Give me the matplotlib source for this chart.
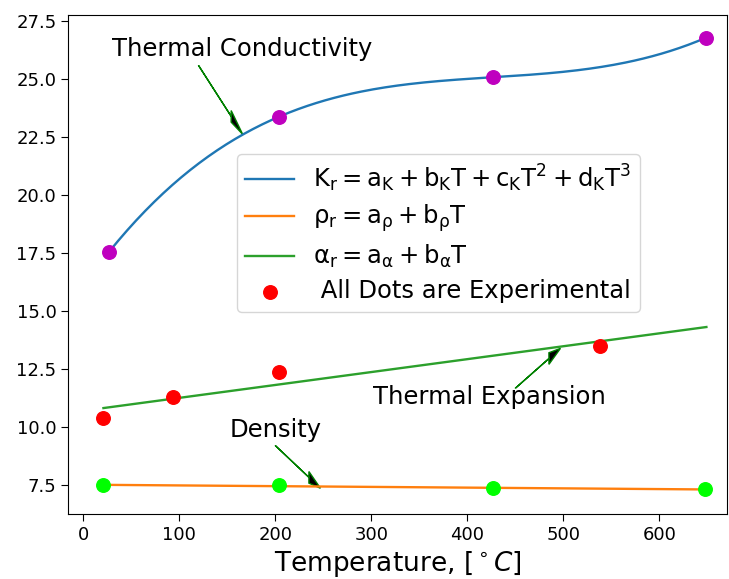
import numpy as np
import matplotlib
matplotlib.use("Agg")
import matplotlib.pyplot as plt

T_cond = [27, 204, 427, 649]
K_cond = [17.57, 23.39, 25.09, 26.80]

T_dens = [21, 204, 427, 648]
rho_dens = [7.50, 7.49, 7.37, 7.32]

T_exp = [21, 93, 204, 538]
alpha_exp = [10.40, 11.32, 12.38, 13.50]

label_K = r'$\mathregular{K_r = a_K + b_KT + c_KT^2 + d_KT^3}$'
label_rho = r'$\mathregular{\rho_r = a_\rho + b_\rho T}$'
label_alpha = r'$\mathregular{\alpha_r = a_\alpha + b_\alpha T}$'
label_dots = ' All Dots are Experimental'

# Fits (as in the legend formulas)
pK = np.polyfit(T_cond, K_cond, 3)
prho = np.polyfit(T_dens, rho_dens, 1)
palpha = np.polyfit(T_exp, alpha_exp, 1)

T_all = T_cond + T_dens + T_exp
TK = np.linspace(min(T_cond), max(T_cond), 200)
TL = np.linspace(min(T_all), max(T_all), 200)

fig = plt.figure(figsize=(7.29, 5.79), dpi=100)
ax = fig.add_axes([0.0937, 0.1123, 0.9036, 0.8617])

ax.plot(TK, np.polyval(pK, TK), color='C0', lw=1.7, label=label_K)
ax.plot(TL, np.polyval(prho, TL), color='C1', lw=1.7, label=label_rho)
ax.plot(TL, np.polyval(palpha, TL), color='C2', lw=1.7, label=label_alpha)

ax.scatter(T_cond, K_cond, s=95, color='m', zorder=3)
ax.scatter(T_dens, rho_dens, s=95, color='#00ff00', zorder=3)
ax.scatter(T_exp, alpha_exp, s=95, color='r', zorder=3, label=label_dots)

fs_txt = 17.5
ax.text(30, 26.0, 'Thermal Conductivity', fontsize=fs_txt)
ax.text(152, 9.57, 'Density', fontsize=fs_txt)
ax.text(302, 11.0, 'Thermal Expansion', fontsize=fs_txt)

arrow_kw = dict(head_width=0.5, head_length=12, fc='k', ec='g',
                length_includes_head=True, width=0.001)
ax.arrow(120, 25.6, 46, -2.97, **arrow_kw)
ax.arrow(200, 9.21, 47, -1.84, **arrow_kw)
ax.arrow(450, 11.68, 47, 1.72, **arrow_kw)

ax.set_xlim(-15.6, 670.5)
ax.set_ylim(6.26, 27.77)
ax.set_xticks([0, 100, 200, 300, 400, 500, 600])
ax.set_yticks([7.5, 10.0, 12.5, 15.0, 17.5, 20.0, 22.5, 25.0, 27.5])
ax.tick_params(labelsize=13, length=5)
ax.set_xlabel(r'Temperature, [$^\circ C$]', fontsize=19)

ax.legend(loc='upper left', bbox_to_anchor=(0.2557, 0.7214), borderaxespad=0,
          fontsize=fs_txt, scatterpoints=1, labelspacing=0.36,
          handlelength=2.0, borderpad=0.35)

fig.savefig('out.png', dpi=100)
